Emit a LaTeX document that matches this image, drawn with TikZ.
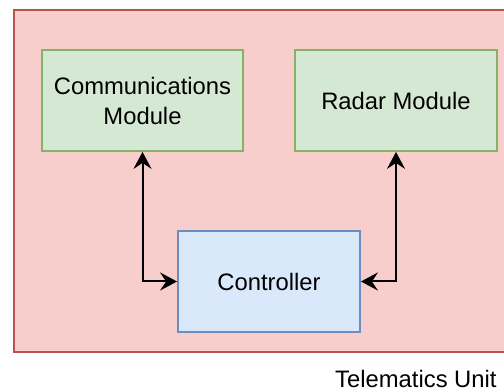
\documentclass[tikz,border=0pt]{standalone}
\usepackage{fontspec}
\setmainfont{Liberation Sans}
\usetikzlibrary{arrows.meta}
\definecolor{unitfill}{HTML}{F8CECC}
\definecolor{unitline}{HTML}{B85450}
\definecolor{modfill}{HTML}{D5E8D4}
\definecolor{modline}{HTML}{82B366}
\definecolor{ctrlfill}{HTML}{DAE8FC}
\definecolor{ctrlline}{HTML}{6C8EBF}
\begin{document}
\begin{tikzpicture}[x=0.5pt, y=-0.5pt,
    every node/.style={font=\fontsize{11.9pt}{15pt}\selectfont, inner sep=0pt},
    unitbox/.style={draw=unitline, fill=unitfill, line width=0.9pt, rectangle},
    modbox/.style={draw=modline, fill=modfill, line width=0.9pt, rectangle, align=center, minimum height=50.5pt},
    ctrlbox/.style={draw=ctrlline, fill=ctrlfill, line width=0.9pt, rectangle, minimum height=50.5pt},
    link/.style={{Stealth[length=8.5pt, width=9pt, inset=3pt]}-{Stealth[length=8.5pt, width=9pt, inset=3pt]}, line width=1pt}]
    \useasboundingbox (0,0) rectangle (504,390);
    \clip (0,0) rectangle (504,390);
    \node at (269.5,181) [unitbox, minimum width=255.5pt, minimum height=171pt] (unit) {};
    \node at (142.5,100.5) [modbox, minimum width=100.5pt] (comm) {Communications\\Module};
    \node at (396,100.5) [modbox, minimum width=101pt] (radar) {Radar Module};
    \node at (269,281.5) [ctrlbox, minimum width=91pt] (ctrl) {Controller};
    \draw[link] (comm.south) |- (ctrl.west);
    \draw[link] (radar.south) |- (ctrl.east);
    \node at (497,387) [anchor=base east] (unitlabel) {Telematics Unit};
\end{tikzpicture}
\end{document}
